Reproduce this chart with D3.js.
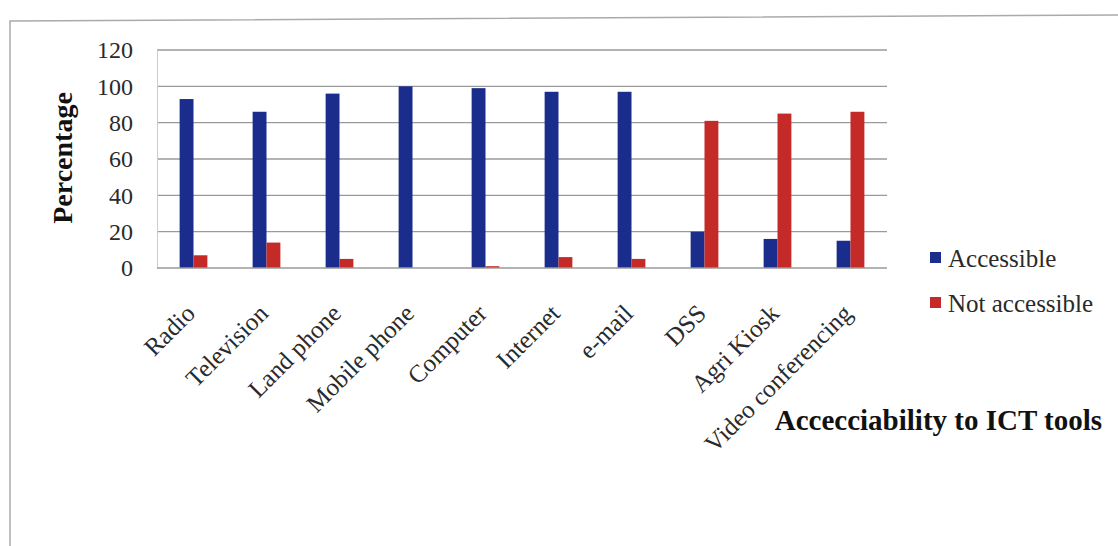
<!DOCTYPE html>
<html><head><meta charset="utf-8">
<script src="https://cdn.jsdelivr.net/npm/d3@7"></script>
<style>body{margin:0;background:#fff}svg{display:block}text{font-family:"Liberation Serif",serif}</style>
</head><body>
<svg id="c" width="1118" height="546"></svg>
<script>
const categories = ["Radio","Television","Land phone","Mobile phone","Computer","Internet","e-mail","DSS","Agri Kiosk","Video conferencing"];
const accessible = [93, 86, 96, 100, 99, 97, 97, 20, 16, 15];
const notAccessible = [7, 14, 5, 0, 1, 6, 5, 81, 85, 86];
const seriesNames = ["Accessible","Not accessible"];
const yTicks = [0,20,40,60,80,100,120];
const colors = ["#1b2d8c","#c42a27"];

const svg = d3.select("#c");
const m = {l:157, r:887, t:50, b:268};
const serif = "'Liberation Serif', serif";

// frame
svg.append("path").attr("d","M10,546 L10,21 L1118,15").attr("fill","none").attr("stroke","#aaa").attr("stroke-width",1.5);

const x = d3.scaleBand().domain(categories).range([m.l, m.r]).paddingInner(0.62).paddingOuter(0.31);
const x1 = d3.scaleBand().domain(seriesNames).range([0, x.bandwidth()]);
const y = d3.scaleLinear().domain([0,120]).range([m.b, m.t]);

// gridlines
svg.append("g").selectAll("line").data(yTicks.filter(d=>d>0)).join("line")
  .attr("x1", m.l).attr("x2", m.r).attr("y1", d=>y(d)).attr("y2", d=>y(d))
  .attr("stroke","#9a9a9a").attr("stroke-width",1.3);

// y axis
const ya = svg.append("g").attr("transform",`translate(${m.l},0)`).call(d3.axisLeft(y).tickValues(yTicks).tickSize(0).tickPadding(24));
ya.attr("font-family", null);
ya.select(".domain").attr("stroke","#ccc");
ya.selectAll("text").style("font-family",serif).attr("font-size",24).attr("fill","#2a2a2a");

// bars
const data = categories.map((c,i)=>({c, vals:[accessible[i], notAccessible[i]]}));
const g = svg.append("g").selectAll("g").data(data).join("g").attr("transform", d=>`translate(${x(d.c)},0)`);
g.selectAll("rect").data(d=>d.vals.map((v,j)=>({v, s:seriesNames[j], j}))).join("rect")
  .attr("x", d=>x1(d.s)).attr("width", x1.bandwidth())
  .attr("y", d=>y(d.v)).attr("height", d=>y(0)-y(d.v))
  .attr("fill", d=>colors[d.j]);

// x axis line
svg.append("line").attr("x1",m.l).attr("x2",m.r).attr("y1",y(0)).attr("y2",y(0)).attr("stroke","#9a9a9a").attr("stroke-width",1.3);

// x labels
const xa = svg.append("g").attr("transform",`translate(0,${y(0)})`).call(d3.axisBottom(x).tickSize(0).tickPadding(0));
xa.attr("font-family", null);
xa.select(".domain").remove();
xa.selectAll("text")
  .style("font-family",serif).attr("font-size",25).attr("fill","#2a2a2a")
  .attr("text-anchor","end").attr("dy",0).attr("y",0)
  .attr("transform","translate(3,47) rotate(-45)");

// y title
svg.append("text").attr("transform",`translate(72,158) rotate(-90)`).attr("text-anchor","middle")
  .style("font-family",serif).attr("font-size",28).attr("font-weight","bold").attr("fill","#111").text("Percentage");

// x title
svg.append("text").attr("x",1102).attr("y",430).attr("text-anchor","end")
  .style("font-family",serif).attr("font-size",29).attr("font-weight","bold").attr("fill","#111").text("Accecciability to ICT tools");

// legend
const lg = svg.append("g").selectAll("g").data(seriesNames).join("g").attr("transform",(d,i)=>`translate(930,${252+i*45})`);
lg.append("rect").attr("width",11).attr("height",11).attr("fill",(d,i)=>colors[i]);
lg.append("text").attr("x",18).attr("y",15).style("font-family",serif).attr("font-size",25).attr("fill","#2a2a2a").text(d=>d);
</script>
</body></html>
